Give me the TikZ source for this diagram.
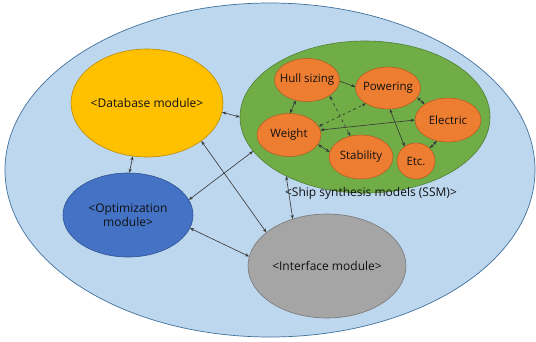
\documentclass[tikz,border=0pt]{standalone}
\usepackage{fontspec}
\setmainfont{Open Sans}
\usetikzlibrary{arrows.meta,shapes.geometric}
\definecolor{sky}{HTML}{BDD7EE}
\definecolor{skyline}{HTML}{41719C}
\definecolor{gold}{HTML}{FFC000}
\definecolor{goldline}{HTML}{BC8C00}
\definecolor{leaf}{HTML}{70AD47}
\definecolor{leafline}{HTML}{507E32}
\definecolor{ember}{HTML}{ED7D31}
\definecolor{emberline}{HTML}{AE5A21}
\definecolor{royal}{HTML}{4472C4}
\definecolor{royalline}{HTML}{2F528F}
\definecolor{stone}{HTML}{A5A5A5}
\definecolor{stoneline}{HTML}{787878}
\definecolor{ink}{HTML}{111111}

\tikzset{
  module/.style={ellipse, inner sep=-20pt, align=center, font=\fontsize{12}{14}\selectfont, text=ink, line width=0.6pt},
  submodel/.style={ellipse, inner sep=-15pt, fill=ember, draw=emberline, line width=0.5pt,
    font=\fontsize{11.5}{13}\selectfont, text=ink},
  link/.style={{Stealth[length=4pt,width=3.2pt]}-{Stealth[length=4pt,width=3.2pt]}, draw=ink!85, line width=0.6pt},
  oneway/.style={-{Stealth[length=4pt,width=3.2pt]}, draw=ink!85, line width=0.6pt},
}

\begin{document}
\begin{tikzpicture}[x=1pt,y=-1pt]
  \useasboundingbox (0,0) rectangle (536,341);
  \node[ellipse, fill=sky, draw=skyline, line width=0.7pt, minimum width=530pt, minimum height=334pt] (frame) at (270,170) {};

  \node[module, fill=gold, draw=goldline, minimum width=152pt, minimum height=108pt] (db) at (147,103) {<Database module>};
  \node[module, fill=leaf, draw=leafline, minimum width=250pt, minimum height=152pt] (ssm) at (365,117) {};
  \node[module, fill=royal, draw=royalline, minimum width=130pt, minimum height=84pt] (opt) at (128,215) {<Optimization\\module>};
  \node[module, fill=stone, draw=stoneline, minimum width=158pt, minimum height=104pt] (ui) at (327,266) {<Interface module>};
  \node[font=\fontsize{12}{14}\selectfont, text=ink] (ssmlabel) at (371,193) {<Ship synthesis models (SSM)>};

  \node[submodel, minimum width=65pt, minimum height=43pt] (hull) at (307,80) {Hull sizing};
  \node[submodel, minimum width=65pt, minimum height=42pt] (pow) at (388,88) {Powering};
  \node[submodel, minimum width=66pt, minimum height=44pt] (elec) at (448,120) {Electric};
  \node[submodel, minimum width=64pt, minimum height=43pt] (wt) at (289,135) {Weight};
  \node[submodel, minimum width=64pt, minimum height=44pt] (stab) at (361,157) {Stability};
  \node[submodel, minimum width=38pt, minimum height=36pt] (etc) at (416,161) {Etc.};

  \draw[link] (db.-7) -- (ssm.180);
  \draw[link] (db.-105) -- (opt.88);
  \draw[link] (db.-35) -- (ui.151);
  \draw[link] (ssm.197) -- (opt.14);
  \draw[link] (ssm.217) -- (ui.126);
  \draw[link] (opt.-12) -- (ui.173);

  \draw[oneway] (hull.-2) -- (pow.178);
  \draw[link] (hull.-119) -- (wt.87);
  \draw[link, dashed] (hull.-35) -- (stab.117);
  \draw[link, dashed] (wt.16) -- (pow.-145);
  \draw[link] (wt.9) -- (elec.180);
  \draw[link] (wt.-18) -- (stab.171);
  \draw[link] (pow.-85) -- (etc.128);
  \draw[link] (pow.-18) -- (elec.146);
  \draw[link] (elec.-118) -- (etc.43);
\end{tikzpicture}
\end{document}
